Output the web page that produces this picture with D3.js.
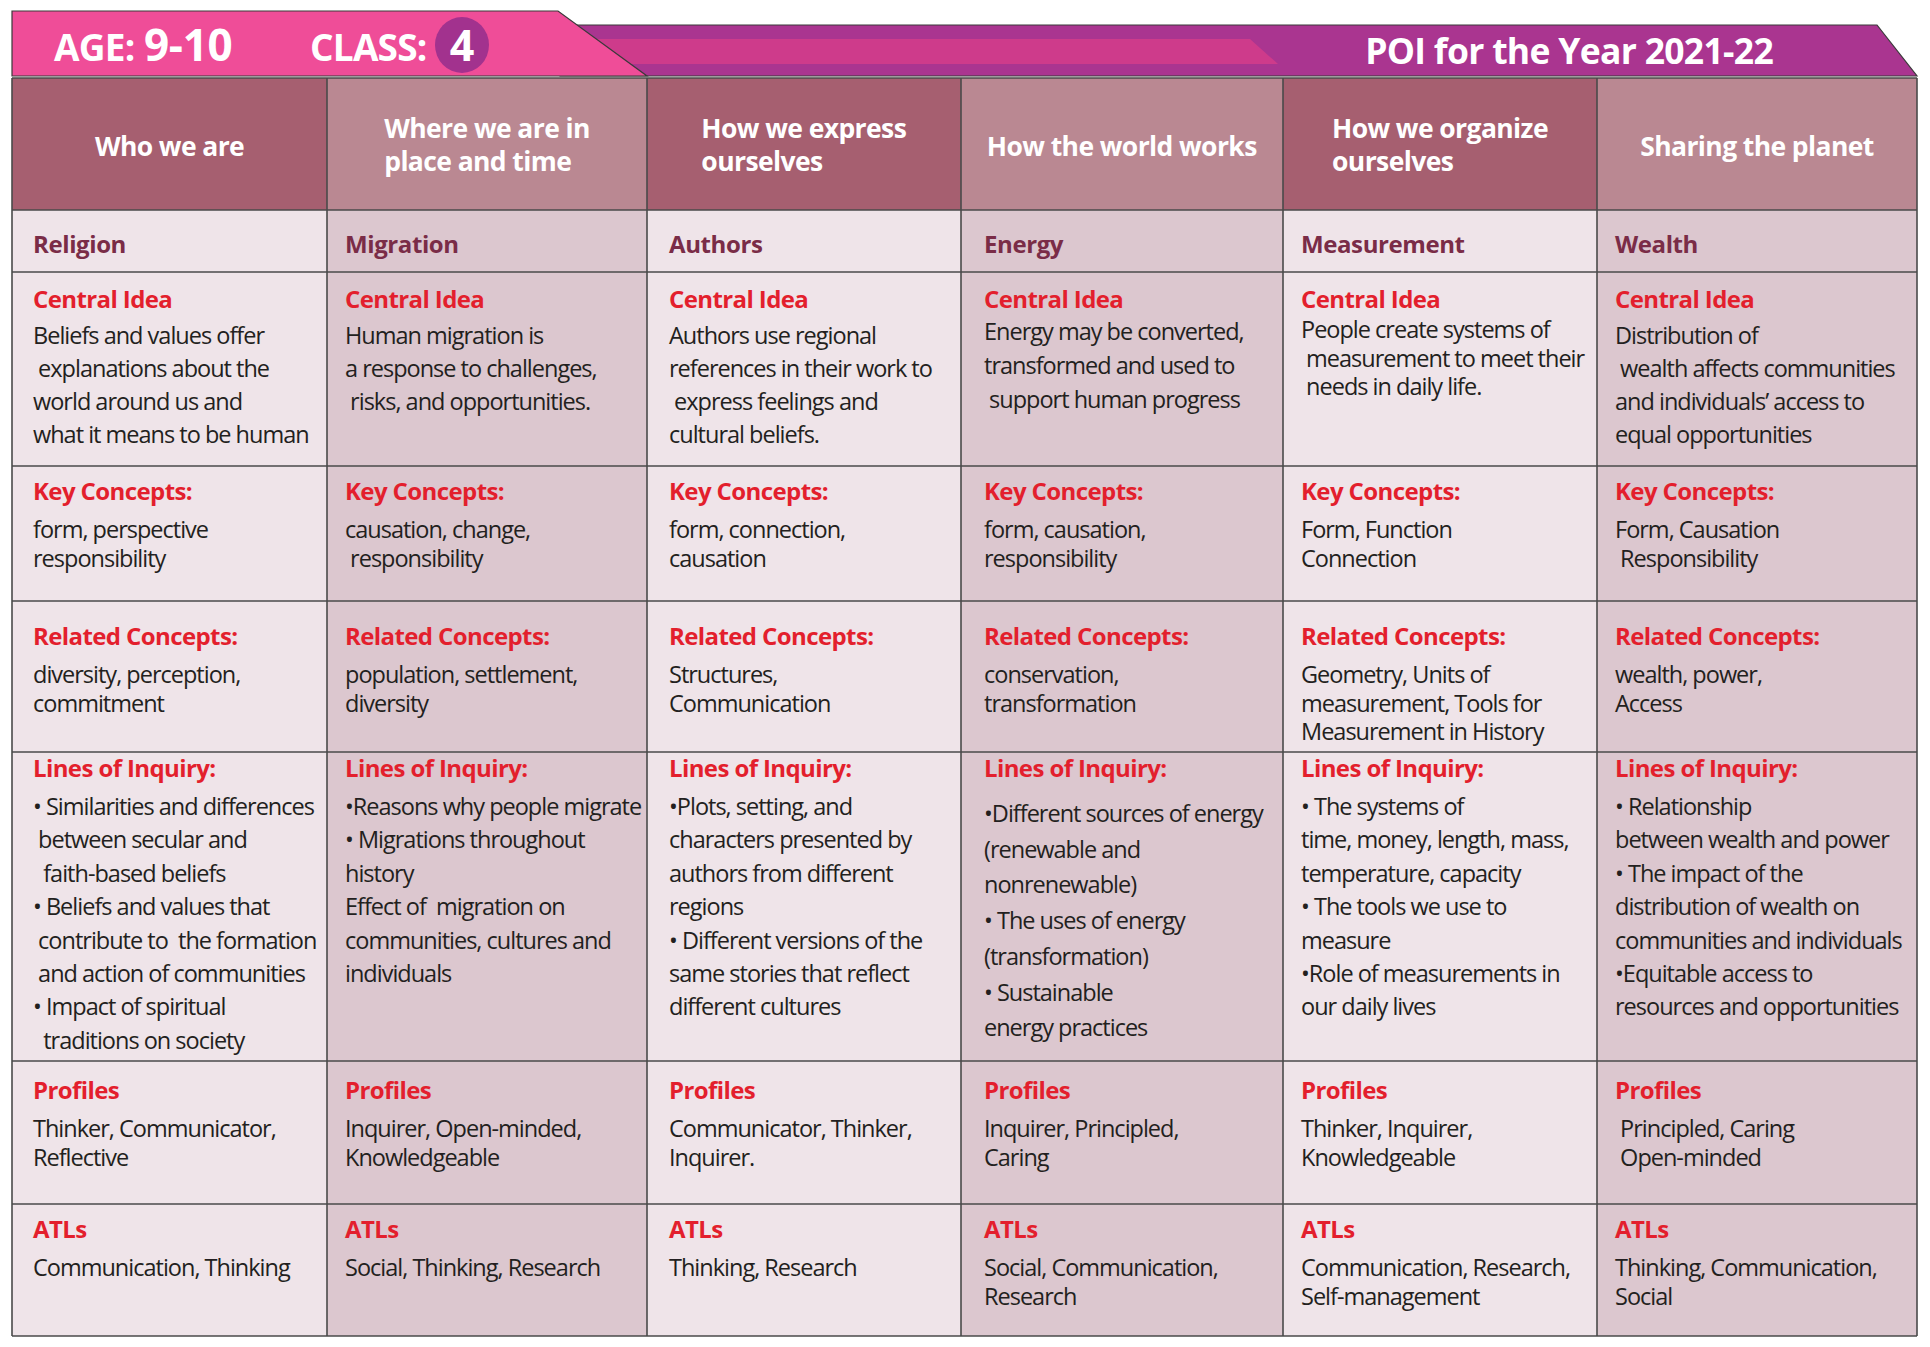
<!DOCTYPE html>
<html>
<head>
<meta charset="utf-8">
<script src="https://cdn.jsdelivr.net/npm/d3@7"></script>
<style>
  html, body { margin: 0; padding: 0; background: #ffffff; }
  svg text { white-space: pre; }
</style>
</head>
<body>
<svg id="chart" width="1930" height="1347"></svg>
<script>
// ---------------- DATA ----------------
const ageLabel = "AGE:";
const ageValue = "9-10";
const classLabel = "CLASS:";
const classValue = "4";
const bannerTitle = "POI for the Year 2021-22";

const themes = ["Who we are", "Where we are in place and time", "How we express ourselves",
                "How the world works", "How we organize ourselves", "Sharing the planet"];
const themeLines = [
  ["Who we are"],
  ["Where we are in", "place and time"],
  ["How we express", "ourselves"],
  ["How the world works"],
  ["How we organize", "ourselves"],
  ["Sharing the planet"]
];
const topics = ["Religion", "Migration", "Authors", "Energy", "Measurement", "Wealth"];

const rowLabels = ["Central Idea", "Key Concepts:", "Related Concepts:", "Lines of Inquiry:", "Profiles", "ATLs"];

const centralIdea = [
  ["Beliefs and values offer", " explanations about the", "world around us and", "what it means to be human"],
  ["Human migration is", "a response to challenges,", " risks, and opportunities."],
  ["Authors use regional", "references in their work to", " express feelings and", "cultural beliefs."],
  ["Energy may be converted,", "transformed and used to", " support human progress"],
  ["People create systems of", " measurement to meet their", " needs in daily life."],
  ["Distribution of", " wealth affects communities", "and individuals’ access to", "equal opportunities"]
];
const keyConcepts = [
  ["form, perspective", "responsibility"],
  ["causation, change,", " responsibility"],
  ["form, connection,", "causation"],
  ["form, causation,", "responsibility"],
  ["Form, Function", "Connection"],
  ["Form, Causation", " Responsibility"]
];
const relatedConcepts = [
  ["diversity, perception,", "commitment"],
  ["population, settlement,", "diversity"],
  ["Structures,", "Communication"],
  ["conservation,", "transformation"],
  ["Geometry, Units of", "measurement, Tools for", "Measurement in History"],
  ["wealth, power,", "Access"]
];
const linesOfInquiry = [
  ["• Similarities and differences", " between secular and", "  faith-based beliefs", "• Beliefs and values that",
   " contribute to  the formation", " and action of communities", "• Impact of spiritual", "  traditions on society"],
  ["•Reasons why people migrate", "• Migrations throughout", "history", "Effect of  migration on",
   "communities, cultures and", "individuals"],
  ["•Plots, setting, and", "characters presented by", "authors from different", "regions",
   "• Different versions of the", "same stories that reflect", "different cultures"],
  ["•Different sources of energy", "(renewable and", "nonrenewable)", "• The uses of energy",
   "(transformation)", "• Sustainable", "energy practices"],
  ["• The systems of", "time, money, length, mass,", "temperature, capacity", "• The tools we use to",
   "measure", "•Role of measurements in", "our daily lives"],
  ["• Relationship", "between wealth and power", "• The impact of the", "distribution of wealth on",
   "communities and individuals", "•Equitable access to", "resources and opportunities"]
];
const profiles = [
  ["Thinker, Communicator,", "Reflective"],
  ["Inquirer, Open-minded,", "Knowledgeable"],
  ["Communicator, Thinker,", "Inquirer."],
  ["Inquirer, Principled,", "Caring"],
  ["Thinker, Inquirer,", "Knowledgeable"],
  [" Principled, Caring", " Open-minded"]
];
const atls = [
  ["Communication, Thinking"],
  ["Social, Thinking, Research"],
  ["Thinking, Research"],
  ["Social, Communication,", "Research"],
  ["Communication, Research,", "Self-management"],
  ["Thinking, Communication,", "Social"]
];
const rowContents = [centralIdea, keyConcepts, relatedConcepts, linesOfInquiry, profiles, atls];

// ---------------- LAYOUT / STYLE ----------------
const W = 1930, H = 1347;
const tableLeft = 12, tableRight = 1917;
const colEdges = [12, 327, 647, 961, 1283, 1597, 1917];
const headerTop = 78, headerBottom = 210, topicBottom = 272;
const rowBottoms = [466, 601, 752, 1061, 1204, 1336];
const rowText = [
  {label: 36, first: 72, step: 33},
  {label: 34, first: 72, step: 29},
  {label: 44, first: 82, step: 28.5},
  {label: 25, first: 63, step: 33.4},
  {label: 38, first: 76, step: 29},
  {label: 34, first: 72, step: 29}
];
const cellOverride = {
  "0-3": {first: 68, step: 34},
  "0-4": {first: 66, step: 28.5},
  "3-3": {first: 70, step: 35.7}
};
const colPad = [21, 18, 22, 23, 18, 18];

const C = {
  pink: "#ef4d98", purple: "#aa3590", stripe: "#ce3b8b", circle: "#a2328e",
  headDark: "#a65f70", headLight: "#ba8892",
  bodyLight: "#efe4e9", bodyDark: "#dcc7cf",
  topic: "#7a2c47", label: "#e31f2d", text: "#231f20", grid: "#4a4a4a"
};
const FONT = "'Open Sans', 'Noto Sans', sans-serif";

const svg = d3.select("#chart");

// column scale: ordinal theme -> left edge, width from the next edge
const xLeft = d3.scaleOrdinal().domain(themes).range(colEdges.slice(0, 6));
const xRight = d3.scaleOrdinal().domain(themes).range(colEdges.slice(1));
const colW = d => xRight(d) - xLeft(d);

// ---------------- BANNER ----------------
const line = d3.line();
svg.append("path")
  .attr("d", line([[560, 25], [1877, 25], [1917, 76], [560, 76]]) + "Z")
  .attr("fill", C.purple).attr("stroke", "#3a3a3a").attr("stroke-width", 1.2);
svg.append("path")
  .attr("d", line([[560, 39], [1250, 39], [1278, 64], [560, 64]]) + "Z")
  .attr("fill", C.stripe);
svg.append("path")
  .attr("d", line([[12, 11], [558, 11], [647, 76], [12, 76]]) + "Z")
  .attr("fill", C.pink).attr("stroke", "#3a3a3a").attr("stroke-width", 1.2);

svg.append("text").attr("x", 54).attr("y", 61)
  .attr("font-family", FONT).attr("font-weight", 700).attr("font-size", 37)
  .attr("letter-spacing", -0.8).attr("fill", "#fff").text(ageLabel);
svg.append("text").attr("x", 144).attr("y", 61)
  .attr("font-family", FONT).attr("font-weight", 700).attr("font-size", 44)
  .attr("letter-spacing", -0.3).attr("fill", "#fff").text(ageValue);
svg.append("text").attr("x", 310).attr("y", 61)
  .attr("font-family", FONT).attr("font-weight", 700).attr("font-size", 37)
  .attr("letter-spacing", -0.8).attr("fill", "#fff").text(classLabel);
svg.append("ellipse").attr("cx", 462).attr("cy", 45).attr("rx", 27).attr("ry", 28).attr("fill", C.circle);
svg.append("text").attr("x", 462).attr("y", 61).attr("text-anchor", "middle")
  .attr("font-family", FONT).attr("font-weight", 700).attr("font-size", 43)
  .attr("fill", "#fff").text(classValue);
svg.append("text").attr("x", 1773).attr("y", 64).attr("text-anchor", "end")
  .attr("font-family", FONT).attr("font-weight", 700).attr("font-size", 35.5)
  .attr("letter-spacing", -0.7).attr("fill", "#fff").text(bannerTitle);

// ---------------- HEADER ROW ----------------
const head = svg.append("g");
head.selectAll("rect").data(themes).join("rect")
  .attr("x", d => xLeft(d)).attr("y", headerTop)
  .attr("width", colW).attr("height", headerBottom - headerTop)
  .attr("fill", (d, i) => i % 2 === 0 ? C.headDark : C.headLight);

const headText = head.selectAll("g.ht").data(themes).join("g").attr("class", "ht");
headText.each(function(d, i) {
  const g = d3.select(this);
  const lines = themeLines[i];
  const t = g.append("text")
    .attr("font-family", FONT).attr("font-weight", 700).attr("font-size", 26.5)
    .attr("letter-spacing", -0.6).attr("fill", "#fff");
  const first = 156 - (lines.length - 1) * 18;
  lines.forEach((l, k) => {
    t.append("tspan").attr("x", 0).attr("y", first + k * 33).text(l);
  });
  const w = t.node().getBBox().width;
  const cx = xLeft(d) + colW(d) / 2;
  g.attr("transform", `translate(${cx - w / 2},0)`);
});

// ---------------- TOPIC ROW ----------------
const topicG = svg.append("g");
topicG.selectAll("rect").data(themes).join("rect")
  .attr("x", d => xLeft(d)).attr("y", headerBottom)
  .attr("width", colW).attr("height", topicBottom - headerBottom)
  .attr("fill", (d, i) => i % 2 === 0 ? C.bodyLight : C.bodyDark);
topicG.selectAll("text").data(topics).join("text")
  .attr("x", (d, i) => xLeft(themes[i]) + colPad[i]).attr("y", 253)
  .attr("font-family", FONT).attr("font-weight", 700).attr("font-size", 24)
  .attr("letter-spacing", -0.4).attr("fill", C.topic).text(d => d);

// ---------------- CONTENT ROWS ----------------
const rowTops = [topicBottom].concat(rowBottoms.slice(0, -1));
rowContents.forEach((content, r) => {
  const g = svg.append("g");
  const top = rowTops[r], bottom = rowBottoms[r];
  g.selectAll("rect").data(themes).join("rect")
    .attr("x", d => xLeft(d)).attr("y", top)
    .attr("width", colW).attr("height", bottom - top)
    .attr("fill", (d, i) => i % 2 === 0 ? C.bodyLight : C.bodyDark);
  const cells = g.selectAll("g.cell").data(themes).join("g").attr("class", "cell")
    .attr("transform", (d, i) => `translate(${xLeft(d) + colPad[i]},${top})`);
  cells.append("text")
    .attr("y", rowText[r].label)
    .attr("font-family", FONT).attr("font-weight", 700).attr("font-size", 24)
    .attr("letter-spacing", -0.6).attr("fill", C.label).text(rowLabels[r]);
  cells.each(function(d, i) {
    const spec = Object.assign({}, rowText[r], cellOverride[r + "-" + i] || {});
    const t = d3.select(this).append("text")
      .attr("font-family", FONT).attr("font-size", 23.5)
      .attr("letter-spacing", -1.0).attr("fill", C.text);
    content[i].forEach((l, k) => {
      t.append("tspan").attr("x", 0).attr("y", spec.first + k * spec.step).text(l);
    });
  });
});

// ---------------- GRID ----------------
const grid = svg.append("g").attr("stroke", C.grid).attr("stroke-width", 1.6).attr("fill", "none");
const hLines = [headerTop, headerBottom, topicBottom].concat(rowBottoms);
grid.selectAll("line.h").data(hLines).join("line").attr("class", "h")
  .attr("x1", tableLeft).attr("x2", tableRight).attr("y1", d => d).attr("y2", d => d);
const vLines = themes.map(d => xLeft(d)).concat([tableRight]);
grid.selectAll("line.v").data(vLines).join("line").attr("class", "v")
  .attr("x1", d => d).attr("x2", d => d).attr("y1", headerTop).attr("y2", rowBottoms[rowBottoms.length - 1]);
</script>
</body>
</html>
